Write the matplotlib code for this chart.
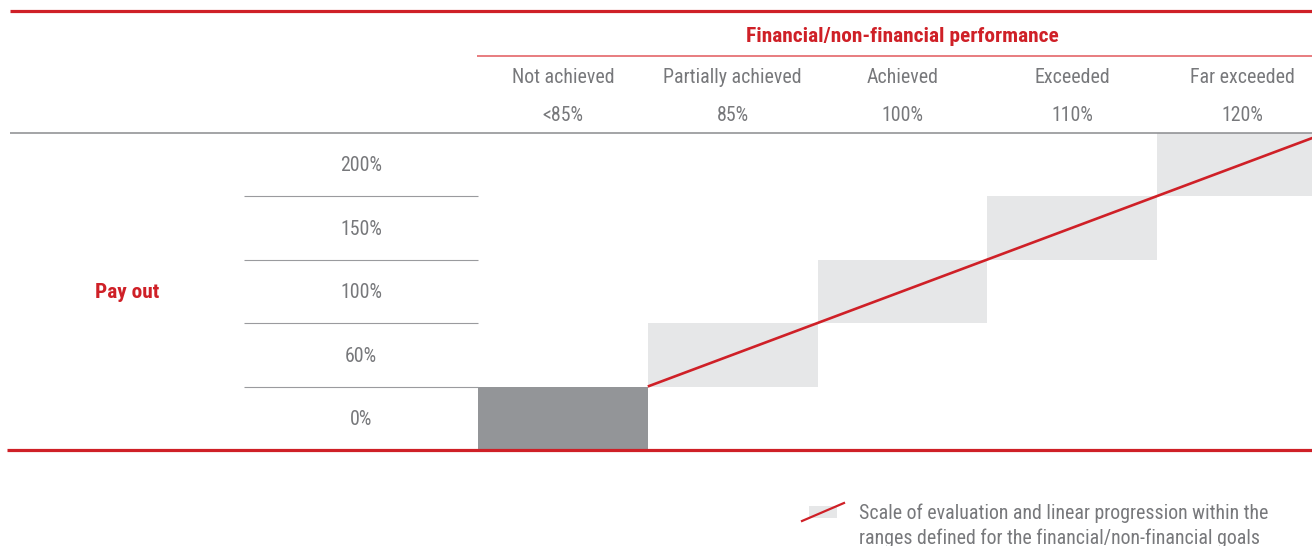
import matplotlib
matplotlib.use('Agg')
import matplotlib.pyplot as plt
from matplotlib.patches import Rectangle
from matplotlib import font_manager as fm

# ---- data ----
perf_labels = ["Not achieved", "Partially achieved", "Achieved", "Exceeded", "Far exceeded"]
perf_thresholds = ["<85%", "85%", "100%", "110%", "120%"]
payout_labels = ["0%", "60%", "100%", "150%", "200%"]
payout_row = [0, 1, 2, 3, 4]          # payout level reached by each performance column
title = "Financial/non-financial performance"
row_title = "Pay out"
legend_lines = ["Scale of evaluation and linear progression within the",
                "ranges defined for the financial/non-financial goals"]

# ---- fonts ----
names = {f.name for f in fm.fontManager.ttflist}
family = next((n for n in ['Roboto Condensed', 'Liberation Sans Narrow', 'Arial Narrow', 'Roboto']
               if n in names), 'DejaVu Sans')
plt.rcParams['font.family'] = [family, 'DejaVu Sans']
condensed = ('Narrow' in family or 'Condensed' in family)
fs = 14.3 if condensed else 12
fsb = 15.4 if condensed else 13

RED = '#cf2027'
RED_LIGHT = '#e2585c'
GREY_TXT = '#77787b'
DARK = '#939598'
LIGHT = '#e6e7e8'

W, H = 1312, 546
fig = plt.figure(figsize=(W / 100, H / 100), dpi=100)
ax = fig.add_axes([0, 0, 1, 1])
ax.set_xlim(0, W)
ax.set_ylim(H, 0)
ax.axis('off')

x0, colw = 478, 169.8
y0, rowh = 450, 63.5
ncol = len(perf_labels)
nrow = len(payout_labels)

def colx(i):
    return x0 + colw * i

def rowy(j):
    return y0 - rowh * j

# boxes
for i, r in enumerate(payout_row):
    color = DARK if i == 0 else LIGHT
    ax.add_patch(Rectangle((colx(i), rowy(r + 1)), colw, rowh, facecolor=color,
                           edgecolor='none', zorder=1))

# linear progression line through lower-left corners of the scale boxes
lx = [colx(i) for i in range(1, ncol + 1)]
ly = [rowy(payout_row[i]) if i < ncol else rowy(payout_row[-1] + 1) for i in range(1, ncol + 1)]
ax.plot(lx, ly, color=RED, lw=1.9, solid_capstyle='butt', zorder=3, clip_on=True)

# rules
ax.plot([10, W], [11, 11], color=RED, lw=2.3, zorder=2, solid_capstyle='butt')
ax.plot([x0 - 1, W], [56, 56], color=RED_LIGHT, lw=1.1, zorder=2, solid_capstyle='butt')
ax.plot([10, W], [rowy(nrow), rowy(nrow)], color='#8a8b8e', lw=1.1, zorder=2, solid_capstyle='butt')
for j in range(1, nrow):
    ax.plot([244, x0], [rowy(j), rowy(j)], color='#9a9b9e', lw=0.8, zorder=2, solid_capstyle='butt')
ax.plot([7, W], [y0, y0], color=RED, lw=2.3, zorder=2, solid_capstyle='butt')

dy = 1.5  # small optical offset for vertical centering

# header texts
ax.text(colx(ncol / 2), 35 + dy, title, color=RED, fontsize=fsb, fontweight='bold',
        ha='center', va='center')
for i, (lab, th) in enumerate(zip(perf_labels, perf_thresholds)):
    cx = colx(i + 0.5)
    ax.text(cx, 76 + dy, lab, color=GREY_TXT, fontsize=fs, ha='center', va='center')
    ax.text(cx, 114 + dy, th, color=GREY_TXT, fontsize=fs, ha='center', va='center')

# row labels
for j, lab in enumerate(payout_labels):
    ax.text(361, rowy(j + 0.5) + dy, lab, color=GREY_TXT, fontsize=fs,
            ha='center', va='center')
ax.text(127, rowy(nrow / 2) + dy, row_title, color=RED, fontsize=fsb, fontweight='bold',
        ha='center', va='center')

# legend
ax.add_patch(Rectangle((809, 506), 28, 12, facecolor=LIGHT, edgecolor='none', zorder=1))
ax.plot([802, 844], [521, 503], color=RED, lw=1.6, zorder=3)
for k, line in enumerate(legend_lines):
    ax.text(859, 512 + 25 * k + dy, line, color=GREY_TXT, fontsize=fs,
            ha='left', va='center')

fig.savefig('out.png', dpi=100)
